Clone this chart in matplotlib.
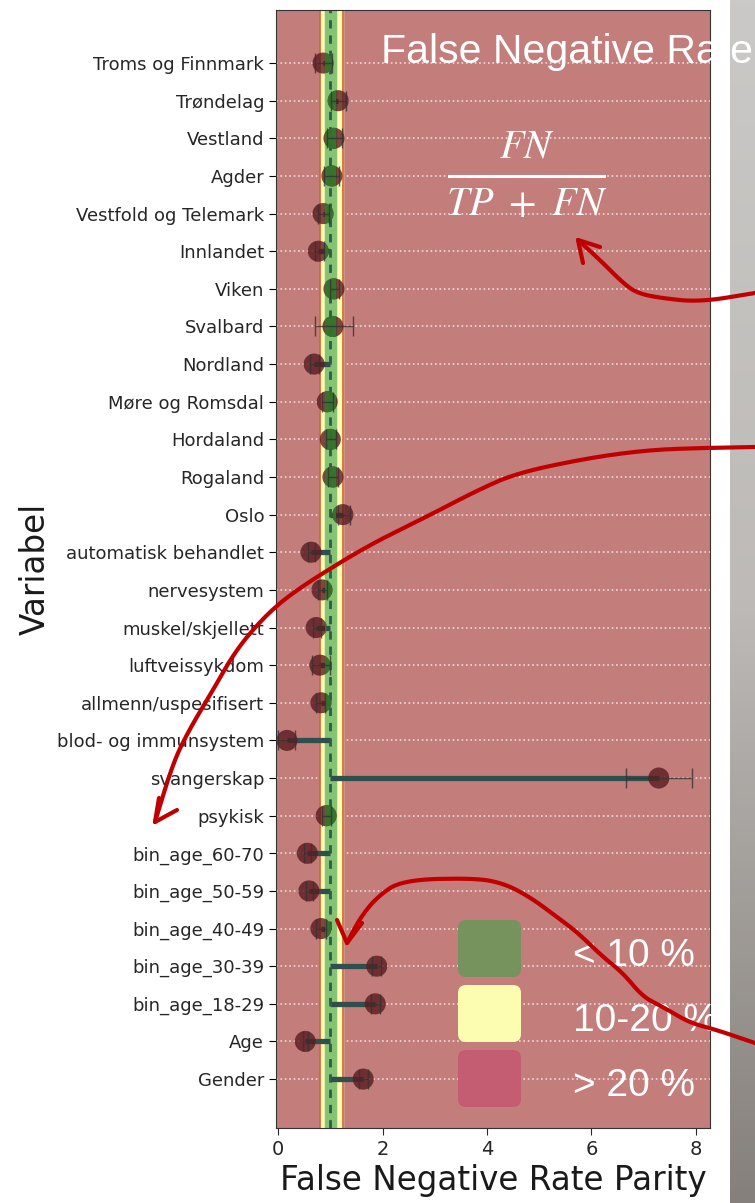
import numpy as np
import matplotlib
matplotlib.use('Agg')
import matplotlib.pyplot as plt
from matplotlib.patches import Rectangle, FancyBboxPatch

# data
categories = ['Troms og Finnmark', 'Trøndelag', 'Vestland', 'Agder', 'Vestfold og Telemark',
              'Innlandet', 'Viken', 'Svalbard', 'Nordland', 'Møre og Romsdal', 'Hordaland',
              'Rogaland', 'Oslo', 'automatisk behandlet', 'nervesystem', 'muskel/skjellett',
              'luftveissykdom', 'allmenn/uspesifisert', 'blod- og immunsystem', 'svangerskap',
              'psykisk', 'bin_age_60-70', 'bin_age_50-59', 'bin_age_40-49', 'bin_age_30-39',
              'bin_age_18-29', 'Age', 'Gender']
fnr_parity = [0.86, 1.15, 1.07, 1.03, 0.86, 0.77, 1.07, 1.05, 0.69, 0.94, 1.00, 1.05, 1.24,
              0.63, 0.84, 0.73, 0.80, 0.82, 0.17, 7.29, 0.92, 0.56, 0.59, 0.82, 1.89, 1.86,
              0.52, 1.63]
ci_low = [0.71, 1.01, 0.94, 0.88, 0.76, 0.70, 1.00, 0.71, 0.62, 0.84, 0.92, 0.96, 1.15,
          0.58, 0.76, 0.66, 0.65, 0.72, 0.00, 6.67, 0.84, 0.50, 0.53, 0.72, 1.80, 1.77,
          0.47, 1.55]
ci_high = [1.03, 1.30, 1.22, 1.17, 0.98, 0.88, 1.16, 1.44, 0.78, 1.05, 1.10, 1.15, 1.37,
           0.70, 0.94, 0.82, 1.00, 0.90, 0.33, 7.93, 1.02, 0.63, 0.66, 0.92, 1.98, 1.95,
           0.58, 1.72]
legend_labels = ['< 10 %', '10-20 %', '> 20 %']

W, H = 755, 1203
fig = plt.figure(figsize=(W / 100, H / 100), dpi=100)
fig.patch.set_facecolor('white')

ax = fig.add_axes([276 / W, 1 - 1128 / H, (710 - 276) / W, (1128 - 10) / H])
ax.set_facecolor('#c37d7b')

y = np.arange(len(categories))
vals = np.array(fnr_parity)
err = [vals - np.array(ci_low), np.array(ci_high) - vals]

# bands around parity = 1
ax.axvspan(0.8, 1.25, color='#fdfbb4', zorder=1)
ax.axvline(0.8, color='#d0622f', lw=1.2, zorder=1.2)
ax.axvline(1.25, color='#d0622f', lw=1.2, zorder=1.2)
ax.axvspan(0.9, 1.1, color='#86c373', zorder=1.3)

# lines from 1 to value
ax.hlines(y, 1.0, vals, color='#2f4f4f', lw=3.8, zorder=2)
ax.axvline(1.0, color='#2f5a50', lw=2, ls=(0, (3, 2.5)), zorder=2.5)

ax.scatter(vals, y, s=230, color='#5a1c20', alpha=0.8, zorder=3, edgecolors='none')
gs = ax.scatter(vals, y, s=230, color='#2f7d2c', alpha=0.85, zorder=3.1, edgecolors='none')
clip = Rectangle((0.9, -5), 0.2, 40, transform=ax.transData)
gs.set_clip_path(clip)

ax.errorbar(vals, y, xerr=err, fmt='none', ecolor='#333333', elinewidth=1,
            capsize=7, capthick=1, alpha=0.8, zorder=4)

ax.set_yticks(y)
ax.set_yticklabels(categories, fontsize=13, color='#262626')
ax.set_xticks([0, 2, 4, 6, 8])
ax.tick_params(axis='x', labelsize=14, colors='#262626', length=5)
ax.tick_params(axis='y', length=5)
ax.set_xlim(-0.04, 8.27)
ax.set_ylim(28.3, -1.41)
ax.set_axisbelow(True)
ax.grid(axis='y', color='white', ls=':', lw=1.2, alpha=0.7)
ax.grid(axis='x', visible=False)
ax.set_xlabel('False Negative Rate Parity', fontsize=23.5, color='#1a1a1a', labelpad=4)
ax.set_ylabel('Variabel', fontsize=23.5, color='#1a1a1a', labelpad=4)
for s in ax.spines.values():
    s.set_color('#333333')

# overlay in pixel coordinates for slide annotations
ov = fig.add_axes([0, 0, 1, 1], zorder=10)
ov.set_xlim(0, W)
ov.set_ylim(H, 0)
ov.axis('off')
ov.patch.set_alpha(0)

grad = np.linspace(0, 1, 256).reshape(-1, 1)
ov.imshow(grad, extent=[730, 755, H, 0], cmap=matplotlib.colors.LinearSegmentedColormap.from_list(
    'g', ['#cac9c7', '#bdbab7', '#85807b']), aspect='auto', zorder=0)

white_font = dict(color='white', family='Liberation Sans', zorder=3)
ov.text(381, 52, 'False Negative Rate', fontsize=29.5, va='center', ha='left', **white_font)

plt.rcParams['mathtext.fontset'] = 'stix'
ov.text(527, 146, r'$FN$', fontsize=29, ha='center', va='center', color='white')
ov.text(527, 204, r'$TP\ +\ FN$', fontsize=29, ha='center', va='center', color='white')
ov.plot([449, 604], [176, 176], color='white', lw=2.2)

legend_colors = ['#76925d', '#fdfdb1', '#c45d71']
for i, (lab, c) in enumerate(zip(legend_labels, legend_colors)):
    top = 920 + i * 65
    ov.add_patch(FancyBboxPatch((462, top + 4), 55, 49, boxstyle='round,pad=4,rounding_size=8',
                                fc=c, ec='none', zorder=2))
    ov.text(573, top + 36, lab, fontsize=28, va='center', ha='left', **white_font)


def smooth(pts, n=3):
    # chaikin corner cutting, keeps the end points
    p = np.array(pts, dtype=float)
    for _ in range(n):
        q = 0.75 * p[:-1] + 0.25 * p[1:]
        r = 0.25 * p[:-1] + 0.75 * p[1:]
        mid = np.empty((2 * len(q), 2))
        mid[0::2] = q
        mid[1::2] = r
        p = np.vstack([p[:1], mid, p[-1:]])
    return p


# hand-drawn red arrows
red = dict(color='#c00000', lw=3, solid_capstyle='round', solid_joinstyle='round', zorder=4)
a1 = [(755, 293), (700, 302), (660, 298), (637, 293), (623, 283), (600, 260), (578, 240)]
a1_head = [(600, 247), (578, 240), (583, 263)]
a2 = [(755, 447), (700, 448), (648, 450), (588, 458), (517, 473), (478, 490), (430, 515),
      (379, 540), (339, 563), (292, 593), (264, 617), (236, 650), (213, 690), (189, 730),
      (173, 763), (155, 822)]
a2_head = [(159, 798), (155, 822), (177, 810)]
a3 = [(755, 1043), (717, 1030), (690, 1023), (663, 1007), (643, 997), (623, 973), (603, 957),
      (577, 932), (557, 917), (530, 897), (503, 883), (473, 878), (402, 880), (377, 897),
      (360, 918), (347, 943)]
a3_head = [(337, 920), (347, 943), (362, 923)]
for path in [a1, a2, a3]:
    p = smooth(path)
    ov.plot(p[:, 0], p[:, 1], **red)
for head in [a1_head, a2_head, a3_head]:
    xs, ys = zip(*head)
    ov.plot(xs, ys, **red)

fig.savefig('out.png', dpi=100)
